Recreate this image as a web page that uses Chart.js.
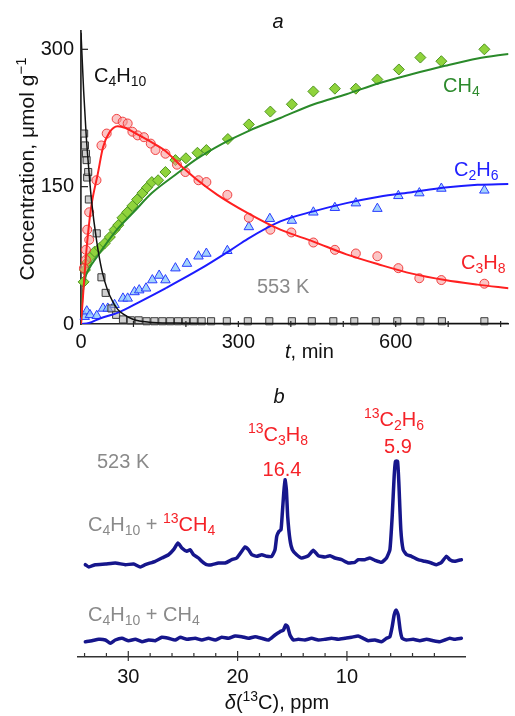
<!DOCTYPE html>
<html>
<head>
<meta charset="utf-8">
<script src="https://cdn.jsdelivr.net/npm/chart.js@4.4.1/dist/chart.umd.min.js"></script>
<style>
  body { margin: 0; background: #fff; }
  #chartA { position: absolute; left: 0; top: 0; }
  #chartB { position: absolute; left: 0; top: 385px; }
</style>
</head>
<body>
<canvas id="chartA" width="515" height="385"></canvas>
<canvas id="chartB" width="515" height="331"></canvas>
<script>
// ---- panel a: concentration vs time (min) at 553 K ----
const xTicksA = [0, 300, 600];
const xMinorA = [100, 200, 300, 400, 500, 600, 700, 800];
const yTicksA = [0, 150, 300];

const butaneT = [6, 7.5, 9.5, 10.7, 11.8, 13.7, 15, 30, 39, 47, 58, 67, 80, 95, 110, 125, 140, 155, 170, 185, 200, 215, 230, 248, 278, 318, 359, 402, 440, 481, 521, 562, 603, 647, 688, 769];
const butaneC = [208, 195, 186, 179, 160, 166, 136, 99, 51, 34, 17, 10, 5, 4, 4, 3, 3, 3, 3, 3, 3, 3, 3, 3, 3, 3, 3, 3, 3, 3, 3, 3, 3, 3, 3, 3];

const propaneT = [5.6, 9.4, 9.4, 11.8, 15.6, 15.6, 29.5, 39, 49, 68, 79.5, 89, 98, 108, 120, 133, 142, 161, 183, 199, 224, 239, 279, 320, 361, 401, 443, 484, 524, 565, 605, 645, 687, 769];
const propaneC = [61, 70, 81, 103, 92, 122, 157, 195, 208, 224, 221, 219, 210, 206, 204, 197, 190, 186, 174, 166, 157, 155, 141, 116, 103, 100, 89, 81, 77, 74, 61, 50, 48, 44];

const methaneT = [5, 7.5, 11, 17, 26, 36, 45, 55, 64, 71, 79, 88, 98, 107, 117, 126, 135, 147, 161, 180, 200, 222, 239, 280, 320, 361, 402, 443, 484, 524, 565, 606, 647, 687, 769];
const methaneC = [46, 59, 67, 73, 79, 83, 88, 95, 103, 108, 116, 122, 129, 136, 143, 149, 155, 157, 166, 179, 181, 187, 190, 202, 218, 232, 240, 254, 257, 257, 267, 278, 291, 287, 300];

const ethaneT = [7, 11, 17, 30, 42, 51, 64, 80, 89, 102, 111, 124, 136, 149, 161, 180, 202, 224, 239, 279, 320, 360, 402, 443, 484, 524, 565, 605, 645, 687, 769];
const ethaneC = [8, 14, 10, 9, 17, 17, 21, 28, 28, 35, 37, 39, 48, 53, 48, 61, 66, 74, 77, 80, 106, 115, 113, 122, 127, 132, 126, 140, 143, 148, 146];

// fitted curves
const butaneFitT = [0, 5, 10, 15, 20, 30, 40, 50, 60, 70, 80, 100, 130, 180, 250, 815];
const butaneFitC = [318, 255, 205, 168, 135, 90, 58, 38, 25, 16, 11, 5, 2, 1, 0.5, 0.5];
const propaneFitT = [0, 5, 10, 14, 20, 32, 42, 54, 70, 85, 105, 130, 161, 190, 220, 260, 318, 380, 443, 506, 568, 631, 694, 756, 815];
const propaneFitC = [0, 40, 78, 102, 130, 164, 193, 209, 216, 214, 208, 200, 189, 173, 158, 141, 121, 103, 90, 76, 65, 55, 48, 43, 39];
const methaneFitT = [0, 3, 8, 15, 30, 67, 100, 135, 180, 220, 270, 320, 380, 444, 506, 568, 632, 694, 756, 815];
const methaneFitC = [0, 32, 50, 60, 73, 102, 122, 143, 163, 180, 197, 211, 225, 240, 251, 263, 273, 282, 290, 295];
const ethaneFitT = [0, 15, 36, 73, 111, 161, 224, 286, 318, 380, 443, 506, 568, 631, 694, 756, 815];
const ethaneFitC = [0, 1, 6, 13, 24, 39, 59, 81, 93, 112, 123, 132, 139, 144, 149, 152, 153];

// ---- panel b: 13C NMR spectra at 523 K ----
const ppmTicks = [30, 20, 10];
const ppmMinor = [34, 32, 30, 28, 26, 24, 22, 20, 18, 16, 14, 12, 10, 8, 6, 4, 2];
const topShift = [33.93, 33.62, 33.01, 32.10, 31.19, 30.27, 29.51, 28.90, 28.45, 27.53, 26.93, 26.32, 25.86, 25.46, 25.10, 24.64, 24.34, 24.03, 23.58, 23.27, 22.82, 22.36, 21.75, 21.14, 20.53, 20.08, 19.62, 19.32, 19.01, 18.71, 18.25, 17.79, 17.34, 16.88, 16.58, 16.42, 16.21, 16.03, 15.91, 15.78, 15.66, 15.54, 15.42, 15.21, 14.99, 14.60, 14.14, 13.53, 13.08, 12.62, 12.01, 11.55, 11.10, 10.49, 9.88, 9.27, 8.97, 8.36, 7.90, 7.44, 6.83, 6.38, 6.07, 5.86, 5.68, 5.56, 5.37, 5.25, 5.07, 4.86, 4.55, 4.10, 3.49, 2.88, 2.27, 1.81, 1.35, 0.90, 0.59, 0.14, -0.47];
const topSignal = [-1.7, -4, -1.7, -1, 0, -1.7, -1, -4, -1.7, 1.7, 5, 8.3, 13.3, 20, 15, 11.7, 13.3, 8.3, 5, 1.7, -1.7, -1.7, 0, 0, 3.3, 5, 11.7, 16, 13.3, 8.3, 6.7, 8.3, 6.7, 6.7, 13.3, 26.7, 31.7, 33.3, 50, 70, 83.3, 73.3, 46.7, 23.3, 13.3, 8.3, 5, 7.3, 12.7, 7.3, 6, 7.3, 5, 3.3, 0, 0.7, 3.3, 3.3, 5, 2.7, 0.7, 5, 13.3, 46.7, 86.7, 101.7, 101.7, 80, 33.3, 13.3, 8.3, 6.7, 3.3, 1.7, 0, -1.7, 0.7, 6.7, 3.3, 1.7, 3.3];
const bottomShift = [33.93, 33.32, 32.71, 32.10, 31.64, 31.19, 30.58, 29.97, 29.36, 28.75, 28.14, 27.53, 26.93, 26.32, 25.71, 25.25, 24.64, 23.88, 23.27, 22.66, 22.05, 21.45, 20.84, 20.23, 19.62, 19.01, 18.40, 17.79, 17.18, 16.58, 16.12, 15.81, 15.60, 15.42, 15.21, 14.90, 14.45, 13.84, 13.23, 12.62, 12.01, 11.40, 10.79, 10.18, 9.57, 8.97, 8.51, 8.05, 7.44, 6.83, 6.38, 6.07, 5.86, 5.68, 5.50, 5.31, 5.13, 4.95, 4.55, 3.94, 3.33, 2.72, 2.12, 1.51, 1.05, 0.59, 0.14, -0.47];
const bottomSignal = [-1.7, -0.7, 0.7, 0, -3.3, 0, 1.7, -0.7, 0.7, -1.7, 0, -0.7, 2.7, 1.7, 0, 2.7, 0.7, 1.7, 0, 1.7, 0, 2.7, 1.7, 4, 3.3, 1.7, 3.3, 1.7, 0, 5, 8.3, 10, 15, 13.3, 5, 0, 0.7, 0, 1.7, 0, 0.7, 1.7, 0.7, 1.7, 2.7, 4, 1.7, -0.7, 0, -1.7, 1.7, 3.3, 13.3, 25, 30, 25, 10, 1.7, 0, 0.7, -0.7, 0.7, -0.7, -1.7, 0, 1.7, 0.7, 1.7];
const topOffset = 77; // vertical stacking of the upper trace

const FONT = '"Liberation Sans", Arial, Helvetica, sans-serif';
Chart.defaults.font.family = FONT;
Chart.defaults.font.size = 20;
Chart.defaults.color = '#111';

const RED = '#f52228', GRAY = '#8a8a8a';

function pts(xs, ys, offset) {
	return xs.map((x, i) => ({ x: x, y: ys[i] + (offset || 0) }));
}

function fit(xs, ys, color, width) {
	return {
		data: pts(xs, ys), showLine: true, borderColor: color, borderWidth: width,
		pointRadius: 0, cubicInterpolationMode: 'monotone', fill: false
	};
}

function marks(xs, ys, style, r, fill, edge) {
	return {
		data: pts(xs, ys), showLine: false, pointStyle: style, pointRadius: r,
		backgroundColor: fill, borderColor: edge, borderWidth: 1, clip: 8
	};
}

// text with sub/superscripts; p.s = 'sub' | 'sup', p.i = italic, p.c = colour
function fontFor(p, size) {
	const sz = p.s ? Math.round(size * 0.72) : size;
	return (p.i ? 'italic ' : '') + sz + 'px ' + FONT;
}

function drawRich(ctx, parts, x, y, size, align, color) {
	ctx.save();
	ctx.textBaseline = 'alphabetic';
	ctx.textAlign = 'left';
	let w = 0;
	parts.forEach(p => { ctx.font = fontFor(p, size); w += ctx.measureText(p.t).width; });
	let cx = align === 'center' ? x - w / 2 : (align === 'right' ? x - w : x);
	parts.forEach(p => {
		ctx.font = fontFor(p, size);
		ctx.fillStyle = p.c || color;
		const dy = p.s === 'sub' ? size * 0.22 : (p.s === 'sup' ? -size * 0.4 : 0);
		ctx.fillText(p.t, cx, y + dy);
		cx += ctx.measureText(p.t).width;
	});
	ctx.restore();
}

function tickLine(ctx, x1, y1, x2, y2) {
	ctx.beginPath(); ctx.moveTo(x1, y1); ctx.lineTo(x2, y2); ctx.stroke();
}

const panelA = {
	id: 'panelA',
	afterDraw(chart) {
		const ctx = chart.ctx, xs = chart.scales.x, ys = chart.scales.y;
		ctx.save();
		ctx.strokeStyle = '#222';
		ctx.lineWidth = 1.2;
		xs.ticks.forEach(t => {
			if (t.value > 0) {
				const px = xs.getPixelForValue(t.value);
				tickLine(ctx, px, ys.bottom - 3, px, ys.bottom + 3);
			}
		});
		ys.ticks.forEach(t => {
			if (t.value > 0) {
				const py = ys.getPixelForValue(t.value);
				tickLine(ctx, xs.left, py, xs.left + 7, py);
			}
		});
		ctx.restore();

		drawRich(ctx, [{ t: 'a', i: true }], 278, 28, 20, 'center', '#111');
		drawRich(ctx, [{ t: 'C' }, { t: '4', s: 'sub' }, { t: 'H' }, { t: '10', s: 'sub' }], 94, 82, 20, 'left', '#111');
		drawRich(ctx, [{ t: 'CH' }, { t: '4', s: 'sub' }], 443, 92, 20, 'left', '#2e8b2e');
		drawRich(ctx, [{ t: 'C' }, { t: '2', s: 'sub' }, { t: 'H' }, { t: '6', s: 'sub' }], 454, 176, 20, 'left', '#2222ff');
		drawRich(ctx, [{ t: 'C' }, { t: '3', s: 'sub' }, { t: 'H' }, { t: '8', s: 'sub' }], 461, 269, 20, 'left', RED);
		drawRich(ctx, [{ t: '553 K' }], 257, 293, 20, 'left', GRAY);
		drawRich(ctx, [{ t: 't', i: true }, { t: ', min' }], 285, 358, 20, 'left', '#111');

		ctx.save();
		ctx.translate(34, 169);
		ctx.rotate(-Math.PI / 2);
		drawRich(ctx, [{ t: 'Concentration, \u03bcmol g' }, { t: '\u22121', s: 'sup' }], 0, 0, 21, 'center', '#111');
		ctx.restore();
	}
};

new Chart(document.getElementById('chartA'), {
	type: 'scatter',
	data: {
		datasets: [
			fit(butaneFitT, butaneFitC, '#111111', 1.5),
			fit(propaneFitT, propaneFitC, '#ff2020', 2),
			fit(methaneFitT, methaneFitC, '#2a8a2a', 2),
			fit(ethaneFitT, ethaneFitC, '#1c1cff', 2),
			marks(butaneT, butaneC, 'rect', 5, 'rgba(170,170,170,0.55)', '#3a3a3a'),
			marks(propaneT, propaneC, 'circle', 4.5, 'rgba(248,150,150,0.55)', 'rgba(240,50,50,0.9)'),
			marks(methaneT, methaneC, 'rectRot', 5.5, '#8fd33c', '#4f9420'),
			marks(ethaneT, ethaneC, 'triangle', 5.5, 'rgba(140,200,250,0.8)', '#2a3cff')
		]
	},
	options: {
		responsive: false,
		animation: false,
		devicePixelRatio: 1,
		layout: { padding: { top: 31, left: 0, right: 0, bottom: 0 } },
		plugins: { legend: { display: false }, tooltip: { enabled: false } },
		scales: {
			x: {
				type: 'linear', min: 0, max: 815,
				grid: { display: false, drawTicks: false },
				border: { display: true, color: '#222', width: 1.5 },
				afterBuildTicks: s => { s.ticks = [0].concat(xMinorA).map(v => ({ value: v })); },
				ticks: {
					autoSkip: false, maxRotation: 0, padding: 6, color: '#111',
					callback: v => xTicksA.includes(v) ? v : ''
				},
				afterFit: s => { s.height = 61; }
			},
			y: {
				min: 0, max: 320,
				grid: { display: false, drawTicks: false },
				border: { display: true, color: '#333', width: 1.8 },
				afterBuildTicks: s => { s.ticks = yTicksA.map(v => ({ value: v })); },
				ticks: { autoSkip: false, padding: 7, color: '#111' },
				afterFit: s => { s.width = 81; }
			}
		}
	},
	plugins: [panelA]
});

const panelB = {
	id: 'panelB',
	afterDraw(chart) {
		const ctx = chart.ctx, xs = chart.scales.x;
		ctx.save();
		ctx.strokeStyle = '#333';
		ctx.lineWidth = 1.2;
		xs.ticks.forEach(t => {
			const px = xs.getPixelForValue(t.value);
			if (ppmTicks.includes(t.value)) tickLine(ctx, px, xs.top - 6, px, xs.top + 4);
			else tickLine(ctx, px, xs.top - 4, px, xs.top);
		});
		ctx.restore();

		drawRich(ctx, [{ t: 'b', i: true }], 279, 18, 20, 'center', '#111');
		drawRich(ctx, [{ t: '13', s: 'sup' }, { t: 'C' }, { t: '3', s: 'sub' }, { t: 'H' }, { t: '8', s: 'sub' }], 278, 56, 20, 'center', RED);
		drawRich(ctx, [{ t: '16.4' }], 282, 91, 20, 'center', RED);
		drawRich(ctx, [{ t: '13', s: 'sup' }, { t: 'C' }, { t: '2', s: 'sub' }, { t: 'H' }, { t: '6', s: 'sub' }], 394, 41, 20, 'center', RED);
		drawRich(ctx, [{ t: '5.9' }], 398, 68, 20, 'center', RED);
		drawRich(ctx, [{ t: '523 K' }], 97, 83, 20, 'left', GRAY);
		drawRich(ctx, [{ t: 'C' }, { t: '4', s: 'sub' }, { t: 'H' }, { t: '10', s: 'sub' }, { t: ' + ' },
			{ t: '13', s: 'sup', c: RED }, { t: 'CH', c: RED }, { t: '4', s: 'sub', c: RED }], 88, 146, 20, 'left', GRAY);
		drawRich(ctx, [{ t: 'C' }, { t: '4', s: 'sub' }, { t: 'H' }, { t: '10', s: 'sub' }, { t: ' + CH' }, { t: '4', s: 'sub' }], 88, 236, 20, 'left', GRAY);
		drawRich(ctx, [{ t: '\u03b4', i: true }, { t: '(' }, { t: '13', s: 'sup' }, { t: 'C), ppm' }], 277, 324, 20, 'center', '#111');
	}
};

function spectrum(xs, ys, offset) {
	return {
		data: pts(xs, ys, offset), showLine: true, borderColor: '#16168c', borderWidth: 3.5,
		pointRadius: 0, tension: 0.15, borderJoinStyle: 'round', borderCapStyle: 'round'
	};
}

new Chart(document.getElementById('chartB'), {
	type: 'scatter',
	data: {
		datasets: [
			spectrum(topShift, topSignal, topOffset),
			spectrum(bottomShift, bottomSignal, 0)
		]
	},
	options: {
		responsive: false,
		animation: false,
		devicePixelRatio: 1,
		layout: { padding: { top: 55, left: 78, right: 50, bottom: 0 } },
		plugins: { legend: { display: false }, tooltip: { enabled: false } },
		scales: {
			x: {
				type: 'linear', min: -0.8, max: 34.6, reverse: true,
				grid: { display: false, drawTicks: false },
				border: { display: true, color: '#333', width: 1.5 },
				afterBuildTicks: s => { s.ticks = ppmMinor.map(v => ({ value: v })); },
				ticks: {
					autoSkip: false, maxRotation: 0, padding: 8, color: '#111',
					callback: v => ppmTicks.includes(v) ? v : ''
				},
				afterFit: s => { s.height = 59; }
			},
			y: { display: false, min: -17, max: 200 }
		}
	},
	plugins: [panelB]
});
</script>
</body>
</html>
